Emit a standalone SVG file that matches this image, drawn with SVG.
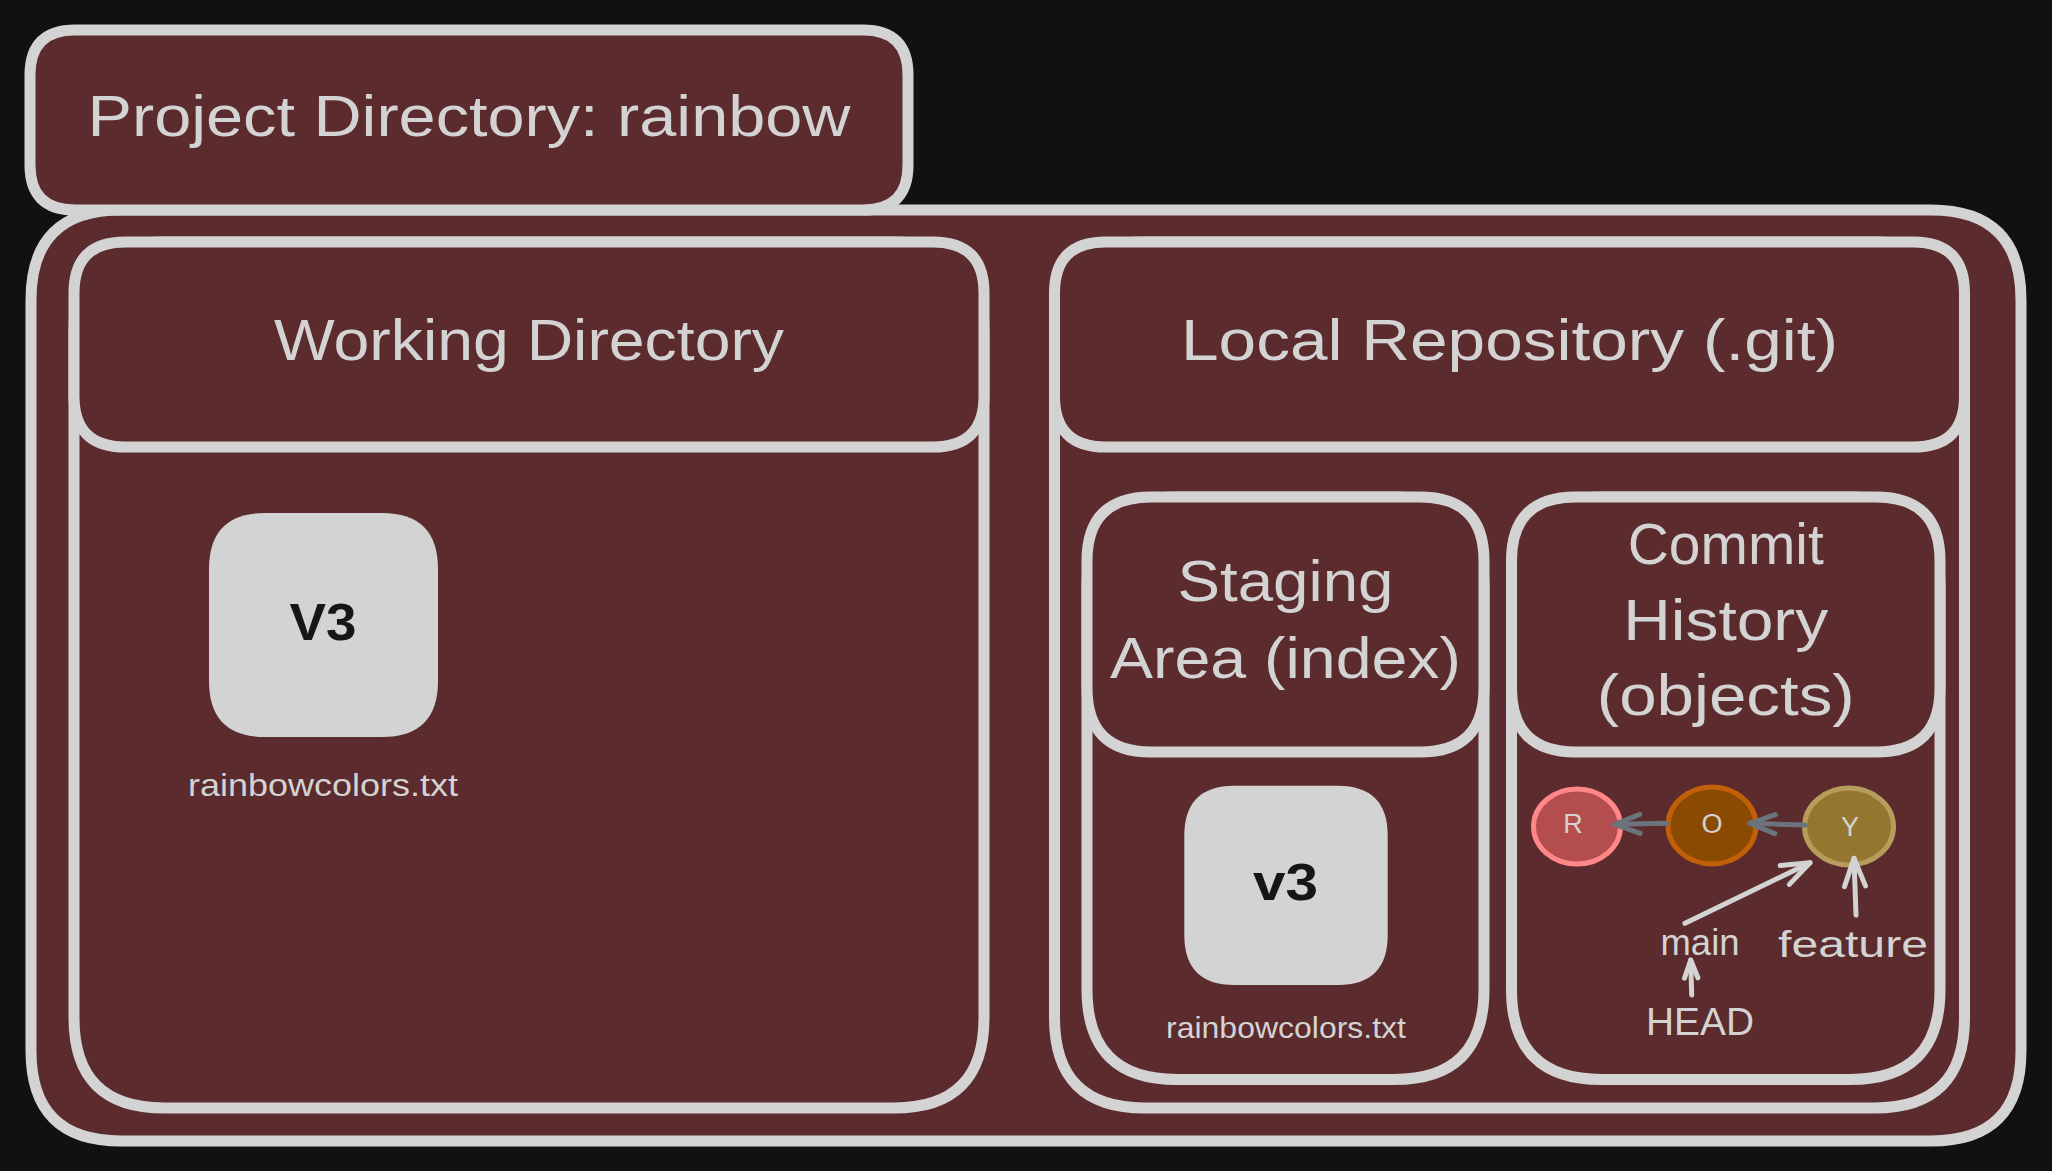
<svg xmlns="http://www.w3.org/2000/svg" width="2052" height="1171" viewBox="0 0 2052 1171">
<style>
.box{fill:#5b2b2d;stroke:#d3d3d3;stroke-width:11;stroke-linejoin:round}
.file{fill:#d3d3d3}
.t{font-family:"Liberation Sans",Arial,sans-serif;fill:#d3d3d3;text-anchor:middle}
.h{font-size:58px}
.s{font-size:32px}
.v{font-family:"Liberation Sans",Arial,sans-serif;font-weight:bold;font-size:52px;fill:#161616;text-anchor:middle}
.c{font-size:27px}
.gray{fill:none;stroke:#6b737b;stroke-width:5;stroke-linecap:round;stroke-linejoin:round}
.white{fill:none;stroke:#d3d3d3;stroke-width:5;stroke-linecap:round;stroke-linejoin:round}
</style>
<defs>
<marker id="ahg" markerUnits="userSpaceOnUse" viewBox="-32 -16 40 32" markerWidth="40" markerHeight="32" refX="0" refY="0" orient="auto" overflow="visible">
<path d="M-25 -9.5 L0 0 L-25 9.5" fill="none" stroke="#6b737b" stroke-width="5" stroke-linecap="round" stroke-linejoin="round"/>
</marker>
<marker id="ahw" markerUnits="userSpaceOnUse" viewBox="-32 -16 40 32" markerWidth="40" markerHeight="32" refX="0" refY="0" orient="auto" overflow="visible">
<path d="M-28 -10.5 L0 0 L-28 10.5" fill="none" stroke="#d3d3d3" stroke-width="5" stroke-linecap="round" stroke-linejoin="round"/>
</marker>
<marker id="ahws" markerUnits="userSpaceOnUse" viewBox="-32 -16 40 32" markerWidth="40" markerHeight="32" refX="0" refY="0" orient="auto" overflow="visible">
<path d="M-18 -6.7 L0 0 L-18 6.7" fill="none" stroke="#d3d3d3" stroke-width="5" stroke-linecap="round" stroke-linejoin="round"/>
</marker>
</defs>
<rect width="2052" height="1171" fill="#111111"/>

<g id="outer">
<path class="box" d="M121 210 H1931 Q2021 210 2021 300 V1051 Q2021 1141 1931 1141 H121 Q31 1141 31 1051 V300 Q31 210 121 210 Z"/>
</g>
<g id="project">
<path class="box" d="M75 30 H863 Q908 30 908 75 V165 Q908 210 863 210 H75 Q30 210 30 165 V75 Q30 30 75 30 Z"/>
<text class="t h" x="469" y="136" textLength="763" lengthAdjust="spacingAndGlyphs">Project Directory: rainbow</text>
</g>

<g id="working">
<path class="box" d="M164 242 H894 Q984 242 984 332 V1018 Q984 1108 894 1108 H164 Q74 1108 74 1018 V332 Q74 242 164 242 Z"/>
<path class="box" d="M125 242 H933 Q984 242 984 293 V396 Q984 447 933 447 H125 Q74 447 74 396 V293 Q74 242 125 242 Z"/>
<text class="t h" x="529" y="360" textLength="510" lengthAdjust="spacingAndGlyphs">Working Directory</text>
</g>
<g id="working-file">
<path class="file" d="M265 513 H382 Q438 513 438 569 V681 Q438 737 382 737 H265 Q209 737 209 681 V569 Q209 513 265 513 Z"/>
<text class="v" x="323" y="640" textLength="67" lengthAdjust="spacingAndGlyphs">V3</text>
<text class="t s" x="323" y="796" textLength="270" lengthAdjust="spacingAndGlyphs">rainbowcolors.txt</text>
</g>

<g id="local-repo">
<path class="box" d="M1144.5 242 H1874.5 Q1964.5 242 1964.5 332 V1018 Q1964.5 1108 1874.5 1108 H1144.5 Q1054.5 1108 1054.5 1018 V332 Q1054.5 242 1144.5 242 Z"/>
<path class="box" d="M1105.5 242 H1913.5 Q1964.5 242 1964.5 293 V396 Q1964.5 447 1913.5 447 H1105.5 Q1054.5 447 1054.5 396 V293 Q1054.5 242 1105.5 242 Z"/>
<text class="t h" x="1509.5" y="360" textLength="657" lengthAdjust="spacingAndGlyphs">Local Repository (.git)</text>
</g>

<g id="staging">
<path class="box" d="M1177 497 H1394 Q1484 497 1484 587 V989.5 Q1484 1079.5 1394 1079.5 H1177 Q1087 1079.5 1087 989.5 V587 Q1087 497 1177 497 Z"/>
<path class="box" d="M1151 497 H1420 Q1484 497 1484 561 V688 Q1484 752 1420 752 H1151 Q1087 752 1087 688 V561 Q1087 497 1151 497 Z"/>
<text class="t h" x="1285.5" y="601" textLength="216" lengthAdjust="spacingAndGlyphs">Staging</text>
<text class="t h" x="1285.5" y="678" textLength="351" lengthAdjust="spacingAndGlyphs">Area (index)</text>
</g>
<g id="staging-file">
<path class="file" d="M1234.3 785.7 H1337.7 Q1387.7 785.7 1387.7 835.7 V935 Q1387.7 985 1337.7 985 H1234.3 Q1184.3 985 1184.3 935 V835.7 Q1184.3 785.7 1234.3 785.7 Z"/>
<text class="v" x="1285.5" y="900" textLength="65" lengthAdjust="spacingAndGlyphs">v3</text>
<text class="t s" x="1286" y="1038" textLength="240" lengthAdjust="spacingAndGlyphs" style="font-size:29px">rainbowcolors.txt</text>
</g>

<g id="commit-history">
<path class="box" d="M1601.5 497 H1850 Q1940 497 1940 587 V989.5 Q1940 1079.5 1850 1079.5 H1601.5 Q1511.5 1079.5 1511.5 989.5 V587 Q1511.5 497 1601.5 497 Z"/>
<path class="box" d="M1575.5 497 H1876 Q1940 497 1940 561 V688 Q1940 752 1876 752 H1575.5 Q1511.5 752 1511.5 688 V561 Q1511.5 497 1575.5 497 Z"/>
<text class="t h" x="1725.75" y="564" textLength="196" lengthAdjust="spacingAndGlyphs">Commit</text>
<text class="t h" x="1725.75" y="640" textLength="205" lengthAdjust="spacingAndGlyphs">History</text>
<text class="t h" x="1725.75" y="715" textLength="258" lengthAdjust="spacingAndGlyphs">(objects)</text>
</g>

<g id="commit-R">
<ellipse cx="1577" cy="826.5" rx="43.5" ry="37.5" fill="#b34d4e" stroke="#ff8787" stroke-width="5"/>
<text class="t c" x="1573" y="833">R</text>
</g>
<g id="commit-O">
<ellipse cx="1712" cy="825.5" rx="44" ry="38.5" fill="#8b4a02" stroke="#c26008" stroke-width="5"/>
<text class="t c" x="1712" y="833">O</text>
</g>
<g id="commit-Y">
<ellipse cx="1849" cy="826.5" rx="44.5" ry="38.5" fill="#94762f" stroke="#b79d5b" stroke-width="5"/>
<text class="t c" x="1850" y="836">Y</text>
</g>

<g id="label-main">
<text class="t" x="1700" y="955" style="font-size:36px" textLength="79" lengthAdjust="spacingAndGlyphs">main</text>
</g>
<g id="label-feature">
<text class="t" x="1853" y="957" style="font-size:36px" textLength="150" lengthAdjust="spacingAndGlyphs">feature</text>
</g>
<g id="label-HEAD">
<text class="t" x="1700" y="1035" style="font-size:38px" textLength="108" lengthAdjust="spacingAndGlyphs">HEAD</text>
</g>

<g id="connectors">
<path class="gray" d="M1666.7 823.3 L1615 824.3" marker-end="url(#ahg)"/>
<path class="gray" d="M1805 825 L1750 823.3" marker-end="url(#ahg)"/>
<path class="white" d="M1685 923.3 L1810 862.7" marker-end="url(#ahw)"/>
<path class="white" d="M1856 915 L1854 858.3" marker-end="url(#ahw)"/>
<path class="white" d="M1691.7 995 L1690.7 960" marker-end="url(#ahws)"/>
</g>
</svg>
